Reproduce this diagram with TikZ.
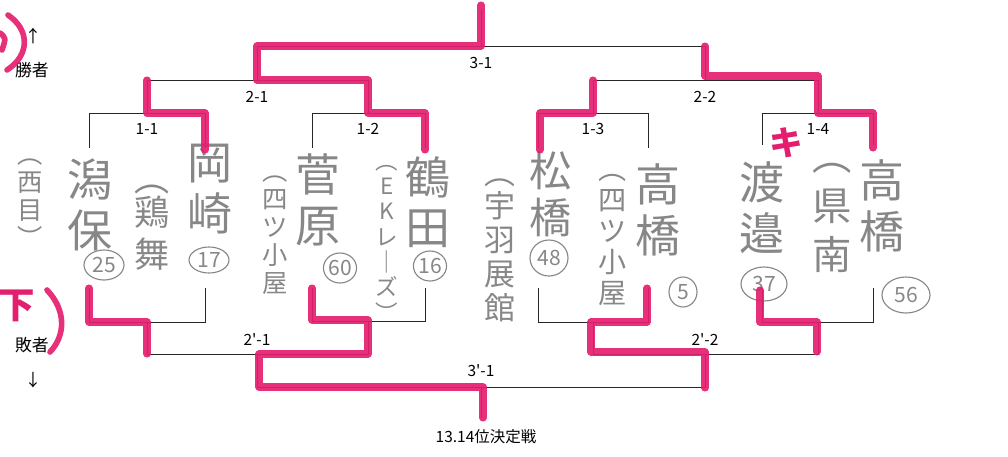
\documentclass[tikz,border=0pt]{standalone}
\usepackage{fontspec}
\setmainfont{Noto Sans CJK JP}[Ligatures=TeXOff]
\usetikzlibrary{shapes.geometric}
\definecolor{marker}{RGB}{228,30,110}
\definecolor{pencil}{RGB}{135,135,135}

\begin{document}
\begin{tikzpicture}[x=0.025cm, y=0.025cm]
\tikzstyle{every node}+=[inner sep=0pt]
\tikzstyle{bracket}=[black!85, line width=0.6pt]
\tikzstyle{hilite}=[marker, line width=5pt, line join=round, line cap=round, opacity=0.92]
\tikzstyle{lbl}=[font=\fontsize{11}{11}\selectfont]
\tikzstyle{hname}=[pencil, align=center, font=\fontsize{32}{36}\selectfont]
\tikzstyle{hclub}=[pencil, align=center, font=\fontsize{18}{20}\selectfont]
\tikzstyle{hnum}=[pencil, draw, ellipse, line width=0.8pt, minimum width=1cm, minimum height=0.75cm, font=\fontsize{15}{15}\selectfont]
\useasboundingbox (0,0) rectangle (1008,-456);
% winners side
\draw [bracket] (89,-148) -- (89,-113) -- (205,-113) -- (205,-148);
\draw [bracket] (312,-148) -- (312,-113) -- (425,-113) -- (425,-148);
\draw [bracket] (538,-148) -- (538,-113) -- (648,-113) -- (648,-148);
\draw [bracket] (762,-145) -- (762,-113) -- (873,-113) -- (873,-145);
\draw [bracket] (147,-113) -- (147,-80) -- (368,-80) -- (368,-113);
\draw [bracket] (593,-113) -- (593,-80) -- (818,-80) -- (818,-113);
\draw [bracket] (257,-80) -- (257,-46) -- (705,-46) -- (705,-80);
\draw [bracket] (481,-46) -- (481,-10);
% losers side
\draw [bracket] (89,-288) -- (89,-322) -- (205,-322) -- (205,-288);
\draw [bracket] (312,-288) -- (312,-321) -- (425,-321) -- (425,-288);
\draw [bracket] (538,-288) -- (538,-322) -- (648,-322) -- (648,-288);
\draw [bracket] (762,-288) -- (762,-322) -- (873,-322) -- (873,-288);
\draw [bracket] (147,-322) -- (147,-354) -- (368,-354) -- (368,-321);
\draw [bracket] (593,-322) -- (593,-354) -- (818,-354) -- (818,-322);
\draw [bracket] (257,-354) -- (257,-387) -- (705,-387) -- (705,-354);
\draw [bracket] (481,-387) -- (481,-418);
% match labels
\node [lbl] (m11) at (147,-129) {1-1};
\node [lbl] (m12) at (368,-129) {1-2};
\node [lbl] (m13) at (593,-129) {1-3};
\node [lbl] (m14) at (818,-129) {1-4};
\node [lbl] (m21) at (257,-97) {2-1};
\node [lbl] (m22) at (705,-97) {2-2};
\node [lbl] (m31) at (481,-63) {3-1};
\node [lbl] (l21) at (257,-340) {2'-1};
\node [lbl] (l22) at (705,-340) {2'-2};
\node [lbl] (l31) at (481,-371) {3'-1};
\node [lbl] (rank) at (486,-437) {13.14位決定戦};
\node [font=\fontsize{12}{12}\selectfont] (upar) at (33,-36) {↑};
\node [font=\fontsize{12}{12}\selectfont] (win) at (32,-70) {勝者};
\node [font=\fontsize{12}{12}\selectfont] (lose) at (32,-345) {敗者};
\node [font=\fontsize{12}{12}\selectfont] (dnar) at (33,-380) {↓};
% handwritten entries
\node [hclub] (t11a) at (30,-203) {︵\\西\\目\\︶};
\node [hname] (n11a) at (90,-205) {潟\\保};
\node [hnum] (s11a) at (104,-265) {25};
\node [hclub, font=\fontsize{25}{30}\selectfont] (t11b) at (152,-228) {︵\\[-6pt]鶏\\舞};
\node [hname] (n11b) at (210,-189) {岡\\崎};
\node [hnum, minimum height=0.65cm] (s11b) at (209,-260) {17};
\node [hclub] (t12a) at (275,-235) {︵\\四\\ツ\\小\\屋};
\node [hname] (n12a) at (318,-200) {菅\\原};
\node [hnum, minimum width=0.8cm] (s12a) at (340,-268) {60};
\node [hclub, font=\fontsize{16}{18}\selectfont] (t12b) at (387,-243) {︵\\E\\K\\レ\\｜\\ズ\\︶};
\node [hname] (n12b) at (428,-202) {鶴\\田};
\node [hnum, minimum width=0.8cm] (s12b) at (430,-266) {16};
\node [hclub, font=\fontsize{22}{24}\selectfont] (t13a) at (500,-250) {︵\\宇\\羽\\展\\館};
\node [hname, font=\fontsize{30}{33}\selectfont] (n13a) at (551,-194) {松\\橋};
\node [hnum, minimum width=0.95cm, minimum height=0.9cm] (s13a) at (549,-258) {48};
\node [hclub, font=\fontsize{20}{22}\selectfont] (t13b) at (613,-240) {︵\\四\\ツ\\小\\屋};
\node [hname] (n13b) at (658,-210) {高\\橋};
\node [hnum, minimum width=0.7cm] (s13b) at (683,-292) {5};
\node [hname] (n14a) at (762,-208) {渡\\邉};
\node [hnum, minimum width=1.15cm, minimum height=0.85cm] (s14a) at (764,-284) {37};
\node [hclub, font=\fontsize{28}{35}\selectfont] (t14b) at (832,-218) {︵\\県\\南};
\node [hname] (n14b) at (882,-206) {高\\橋};
\node [hnum, minimum width=1.2cm, minimum height=0.9cm] (s14b) at (906,-295) {56};
% marker strokes
\draw [hilite] (205,-150) -- (205,-113) -- (147,-113) -- (147,-80);
\draw [hilite] (425,-150) -- (425,-113) -- (368,-113) -- (368,-80) -- (257,-80) -- (257,-46) -- (481,-46) -- (481,-5);
\draw [hilite] (540,-150) -- (540,-113) -- (593,-113) -- (593,-80);
\draw [hilite] (873,-148) -- (873,-113) -- (818,-113) -- (818,-76) -- (705,-76) -- (705,-46);
\draw [hilite] (89,-288) -- (89,-322) -- (147,-322) -- (147,-354);
\draw [hilite] (312,-288) -- (312,-320) -- (368,-320) -- (368,-354) -- (259,-354) -- (259,-387) -- (483,-387) -- (483,-418);
\draw [hilite] (647,-288) -- (647,-322) -- (591,-322) -- (591,-352) -- (705,-352) -- (705,-388);
\draw [hilite] (760,-290) -- (760,-322) -- (817,-322) -- (817,-352);
\node [marker, font=\fontsize{24}{24}\selectfont\bfseries] (ki) at (786,-143) {キ};
\node [marker, font=\fontsize{26}{26}\selectfont\bfseries] (shita) at (17,-306) {下};
\draw [hilite, line width=4pt] (8,-15) .. controls (30,-30) and (30,-55) .. (7,-70);
\draw [hilite, line width=4pt] (0,-33) .. controls (6,-38) .. (2,-50);
\draw [hilite, line width=4pt] (47,-290) .. controls (66,-310) and (66,-335) .. (50,-352);
\end{tikzpicture}
\end{document}
